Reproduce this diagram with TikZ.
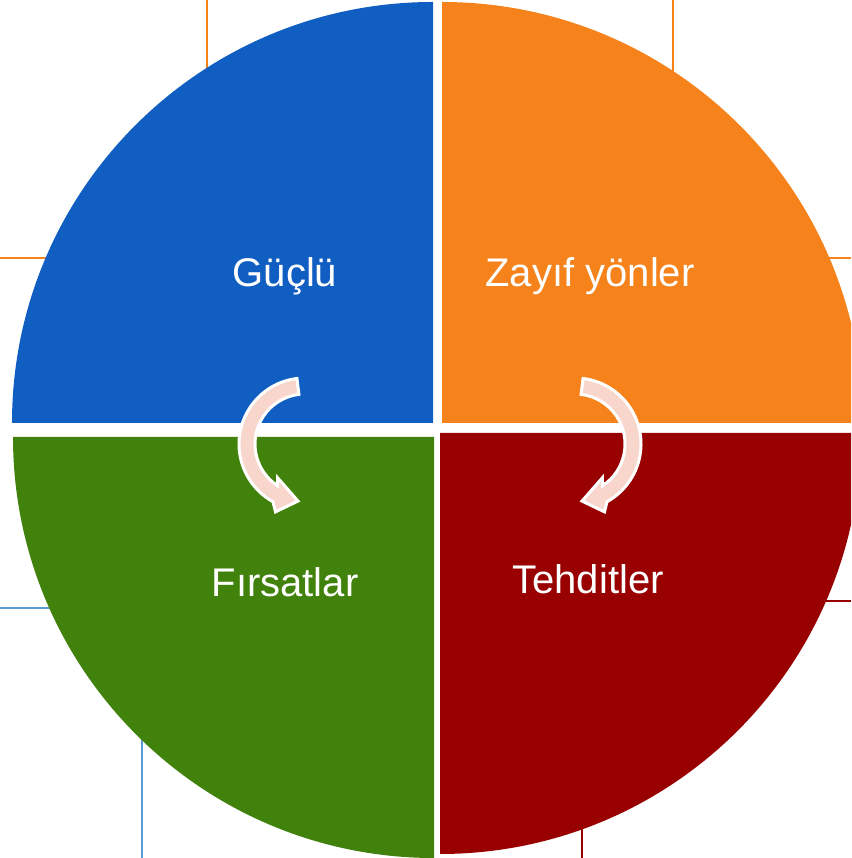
\documentclass[tikz,border=0pt]{standalone}
\usepackage{fontspec}
\setmainfont{Liberation Sans}
\definecolor{strong}{HTML}{105EC2}
\definecolor{weak}{HTML}{F5821A}
\definecolor{chance}{HTML}{41820D}
\definecolor{threat}{HTML}{990000}
\definecolor{turnfill}{HTML}{F8D6CC}
\definecolor{tickblue}{HTML}{5B9BD5}
\tikzset{
  lbl/.style  = {text=white, font=\fontsize{40}{48}\selectfont, anchor=base, inner sep=0pt},
  turn/.style = {fill=turnfill, draw=white, line width=3pt, line join=miter},
  tick/.style = {line width=1.5pt},
}
\newcommand{\quadrant}[4]{\fill[#1] (#2) -- ++(#3:421)
  arc[start angle=#3, end angle=#4, radius=421] -- cycle;}
\newcommand{\turnarrow}[2]{\draw[turn, shift={(#1)}, xscale=#2]
  (97:66) arc[start angle=97, end angle=241, radius=66] -- (246.5:74) -- (263:57.5)
  -- (231:43.5) -- (236.5:50) arc[start angle=236.5, end angle=97, radius=50] -- cycle;}
\begin{document}
\begin{tikzpicture}[x=1pt,y=1pt]
\useasboundingbox (0,0) rectangle (851,858);
\clip (0,0) rectangle (851,858);

% ------------------------------------------------------------------ ticks behind
\draw[tick, weak] (207,858) -- (207,780);
\draw[tick, weak] (673,858) -- (673,780);
\draw[tick, weak] (0,600) -- (60,600);
\draw[tick, weak] (851,600) -- (820,600);
\draw[tick, tickblue] (0,250) -- (60,250);
\draw[tick, tickblue] (142,0) -- (142,130);
\draw[tick, threat] (851,257) -- (820,257);
\draw[tick, threat] (582,0) -- (582,40);

% ------------------------------------------------------------------ quadrants
\quadrant{strong}{433,435}{180}{90}
\quadrant{weak}{442,435}{90}{0}
\quadrant{chance}{434,421}{180}{270}
\quadrant{threat}{440,425}{0}{-90}

% ------------------------------------------------------------------ labels
\node[lbl] (guclu)  at (285,571) {Güçlü};
\node[lbl] (zayif)  at (590,571) {Zayıf yönler};
\node[lbl] (firsat) at (285,261) {Fırsatlar};
\node[lbl] (tehdit) at (588,264) {Tehditler};

% ------------------------------------------------------------------ turning arrows
\turnarrow{305,414}{1}
\turnarrow{575,414}{-1}

\end{tikzpicture}
\end{document}
